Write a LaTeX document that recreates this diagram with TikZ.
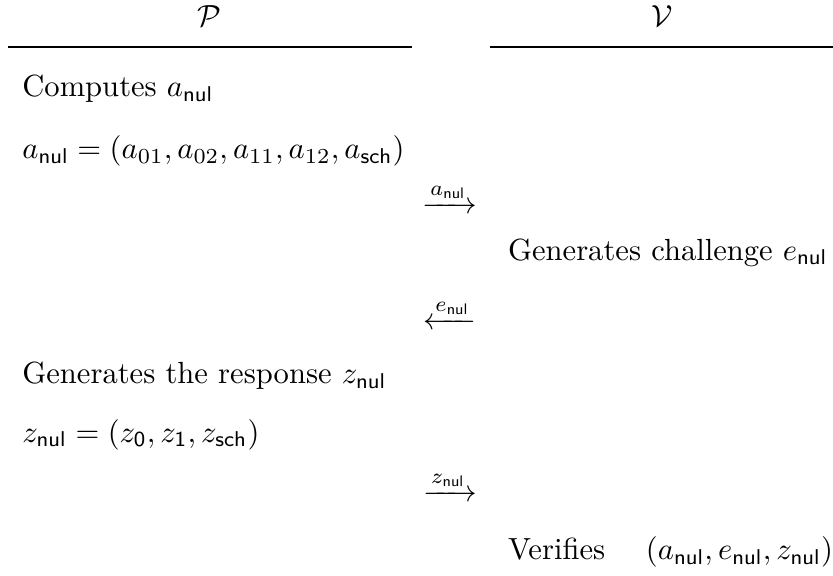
\documentclass[tikz,border=0pt]{standalone}
\usepackage{amsmath,amssymb}
\usepackage{tikz}

\begin{document}
\begin{tikzpicture}[
    txt/.style={anchor=base west, inner sep=0pt},
    msg/.style={anchor=base, inner sep=0pt}]
    \useasboundingbox (0,0) rectangle (9.57,-6.61);

    % parties
    \node[msg] (prover) at (2.41,-0.31) {$\mathcal{P}$};
    \node[msg] (verifier) at (7.61,-0.31) {$\mathcal{V}$};
    \draw[line width=0.4pt] (0.09,-0.54) -- (4.73,-0.54);
    \draw[line width=0.4pt] (5.63,-0.54) -- (9.57,-0.54);

    % prover side
    \node[txt] (commit) at (0.25,-1.11) {Computes $a_{\mathsf{nul}}$};
    \node[txt] (commitval) at (0.25,-1.82) {$a_{\mathsf{nul}} = (a_{01}, a_{02}, a_{11}, a_{12}, a_{\mathsf{sch}})$};
    \node[txt] (resp) at (0.25,-4.41) {Generates the response $z_{\mathsf{nul}}$};
    \node[txt] (respval) at (0.25,-5.08) {$z_{\mathsf{nul}} = (z_{\mathsf{0}}, z_{\mathsf{1}}, z_{\mathsf{sch}})$};

    % verifier side
    \node[txt] (chal) at (5.83,-2.99) {Generates challenge $e_{\mathsf{nul}}$};
    \node[txt] (check) at (5.83,-6.43) {Verifies \quad $(a_{\mathsf{nul}}, e_{\mathsf{nul}}, z_{\mathsf{nul}})$};

    % messages
    \node[msg] (msga) at (5.17,-2.45) {$\xrightarrow{a_{\mathsf{nul}}}$};
    \node[msg] (msge) at (5.17,-3.78) {$\xleftarrow{e_{\mathsf{nul}}}$};
    \node[msg] (msgz) at (5.17,-5.76) {$\xrightarrow{z_{\mathsf{nul}}}$};
\end{tikzpicture}
\end{document}
